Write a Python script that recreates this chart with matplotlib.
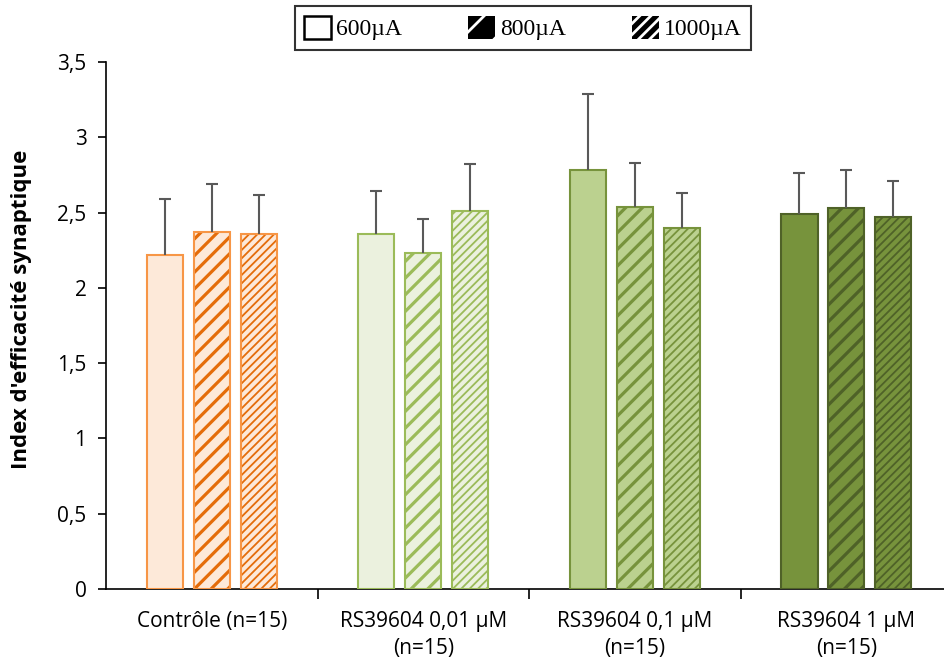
import matplotlib.pyplot as plt
import matplotlib.patches as mpatches
import numpy as np

groups = ['Contrôle (n=15)', 'RS39604 0,01 µM\n(n=15)', 'RS39604 0,1 µM\n(n=15)', 'RS39604 1 µM\n(n=15)']
series = ['600µA', '800µA', '1000µA']

# mean values per group (rows) and intensity (columns)
means = [[2.22, 2.37, 2.36],
         [2.36, 2.23, 2.51],
         [2.78, 2.54, 2.40],
         [2.49, 2.53, 2.47]]
errs = [[0.37, 0.32, 0.26],
        [0.28, 0.23, 0.31],
        [0.51, 0.29, 0.23],
        [0.27, 0.25, 0.24]]

# colours per group: face, edge, hatch
faces = ['#FDE9D9', '#EBF1DE', '#BBD18F', '#77933C']
edges = ['#F79646', '#9BBB59', '#77933C', '#4F6228']
hatchcols = ['#E46C0A', '#9BBB59', '#77933C', '#4F6228']
hatches = [None, '//', '////']
hatch_lw = [1.0, 2.3, 1.3]

fig = plt.figure(figsize=(9.44, 6.61), dpi=100)
ax = fig.add_axes([106/944, 72/661, 1 - 106/944, (589 - 62)/661])

x = np.arange(len(groups))
w = 0.172
offs = [-0.222, 0.0, 0.222]

for g in range(len(groups)):
    for s in range(3):
        xi = x[g] + offs[s]
        plt.rcParams['hatch.linewidth'] = hatch_lw[s]
        # fill + hatch layer
        ax.bar(xi, means[g][s], w, color=faces[g], edgecolor=hatchcols[g],
               hatch=hatches[s], linewidth=0, zorder=2)
        # outline layer
        ax.bar(xi, means[g][s], w, fill=False, edgecolor=edges[g], linewidth=1.5, zorder=3)
        eb = ax.errorbar(xi, means[g][s], yerr=[[0], [errs[g][s]]], fmt='none',
                         ecolor='#595959', elinewidth=1.5, capsize=4.3, capthick=1.5, zorder=4)
        eb[1][0].set_visible(False)

ax.set_ylim(0, 3.5)
ax.set_xlim(-0.5, 3.462)
ax.set_yticks(np.arange(0, 3.51, 0.5))
ax.set_yticklabels(['0', '0,5', '1', '1,5', '2', '2,5', '3', '3,5'], fontsize=15, family='Open Sans')
ax.set_xticks(x)
ax.set_xticklabels(groups, fontsize=15, family='Open Sans', linespacing=1.35)
ax.tick_params(axis='x', length=0, pad=16)
ax.set_xticks(np.arange(0.5, 3.5, 1.0), minor=True)
ax.tick_params(axis='x', which='minor', length=7, width=1.2)
ax.tick_params(axis='y', length=6, width=1.2, pad=8)
ax.spines['top'].set_visible(False)
ax.spines['right'].set_visible(False)
ax.spines['left'].set_linewidth(1.2)
ax.spines['bottom'].set_linewidth(1.2)
ax.set_ylabel("Index d'efficacité synaptique", fontsize=16, fontweight='bold', family='Open Sans')
ax.yaxis.set_label_coords(-0.088, 0.53)

plt.rcParams['hatch.linewidth'] = 2.0
handles = [mpatches.Patch(facecolor='white', edgecolor='black', linewidth=1.8),
           mpatches.Patch(facecolor='black', edgecolor='white', hatch='/', linewidth=0),
           mpatches.Patch(facecolor='black', edgecolor='white', hatch='///', linewidth=0)]
leg = fig.legend(handles, series, loc='center', bbox_to_anchor=(523/944, 1 - 28/661), ncol=3,
                 frameon=True, fancybox=False, edgecolor='black', handlelength=1.15, handleheight=1.15,
                 columnspacing=2.8, handletextpad=0.2, borderpad=0.4,
                 prop={'family': 'Liberation Serif', 'size': 17})
leg.get_frame().set_linewidth(1.5)

fig.savefig('out.png', dpi=100)
